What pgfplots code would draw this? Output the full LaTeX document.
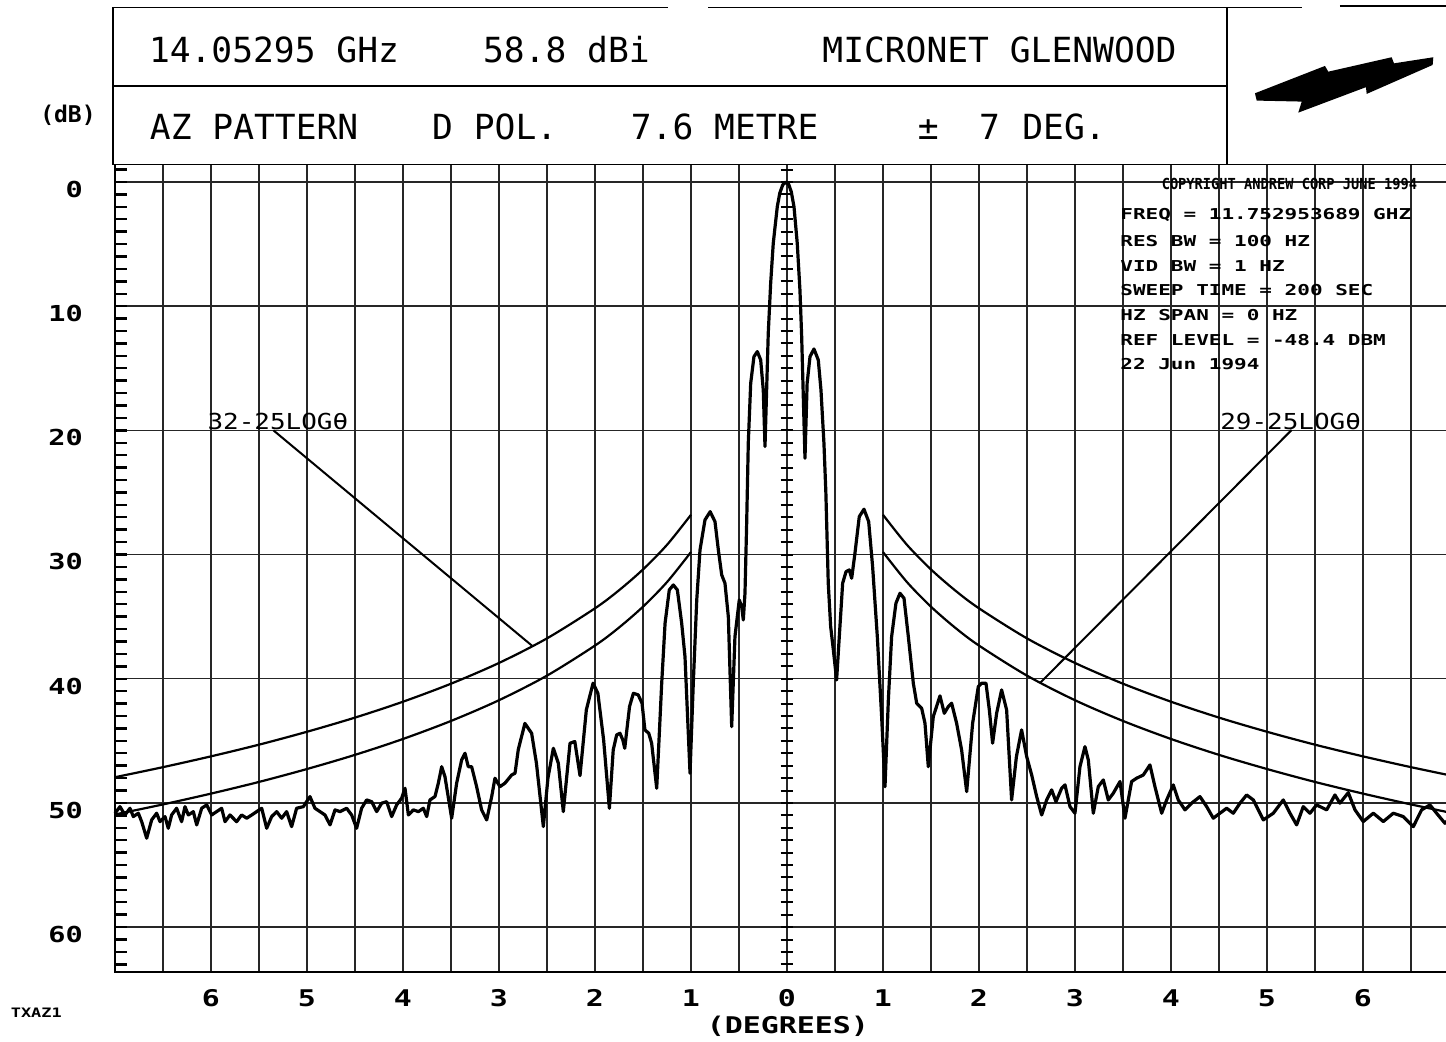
\documentclass[border=0pt]{standalone}
\usepackage{fontspec}
\setmainfont{DejaVu Sans Mono}
\newfontfamily\hdrfont{DejaVu Sans Mono}
\newfontfamily\tickfont[FakeStretch=1.3]{DejaVu Sans Mono}
\newfontfamily\lblfont[FakeStretch=1.18]{DejaVu Sans Mono}
\newfontfamily\insetfont[FakeStretch=1.4]{DejaVu Sans Mono}
\newfontfamily\copyfont[FakeStretch=0.9]{DejaVu Sans Mono}
\usepackage{pgfplots}
\pgfplotsset{compat=1.18}
\begin{document}
\begin{tikzpicture}
\begin{axis}[
  scale only axis, width=672pt, height=403.65pt,
  xmin=-7, xmax=7, ymin=-1.4, ymax=63.6, y dir=reverse,
  axis line style={line width=0.9pt},
  xtick={-6,...,6}, minor xtick={-6.5,-5.5,...,6.5},
  ytick={0,10,...,60},
  xticklabels={}, yticklabels={},
  xmajorgrids, xminorgrids, ymajorgrids,
  major grid style={black!85, line width=0.75pt},
  minor grid style={black!85, line width=0.75pt},
  major tick length=0pt, minor tick length=0pt,
  clip=false,
]
% bounding box corners (page = 1446 x 1042 px)
\coordinate (BL) at (axis cs:-8.198,69.24);
\coordinate (TR) at (axis cs:6.865,-14.65);

% header frame
\draw[line width=0.9pt] (axis cs:-7.02,-14.05) -- (axis cs:-1.24,-14.05);
\draw[line width=0.9pt] (axis cs:-0.82,-14.05) -- (axis cs:5.36,-14.05);
\draw[line width=0.9pt] (axis cs:5.76,-14.15) -- (axis cs:7.5,-14.15);
\draw[line width=0.9pt] (axis cs:-7.02,-7.7) -- (axis cs:4.58,-7.7);
\draw[line width=0.9pt] (axis cs:-7.02,-14.05) -- (axis cs:-7.02,-1.4);
\draw[line width=0.9pt] (axis cs:4.58,-14.05) -- (axis cs:4.58,-1.4);

% header text
\node[anchor=base west, inner sep=0pt, font=\hdrfont\fontsize{17.3}{20}\selectfont] at (axis cs:-6.65,-9.6) {14.05295 GHz};
\node[anchor=base west, inner sep=0pt, font=\hdrfont\fontsize{17.3}{20}\selectfont] at (axis cs:-3.17,-9.6) {58.8 dBi};
\node[anchor=base west, inner sep=0pt, font=\hdrfont\fontsize{17.3}{20}\selectfont] at (axis cs:0.365,-9.6) {MICRONET GLENWOOD};
\node[anchor=base west, inner sep=0pt, font=\hdrfont\fontsize{17.3}{20}\selectfont] at (axis cs:-6.64,-3.38) {AZ PATTERN};
\node[anchor=base west, inner sep=0pt, font=\hdrfont\fontsize{17.3}{20}\selectfont] at (axis cs:-3.70,-3.38) {D POL.};
\node[anchor=base west, inner sep=0pt, font=\hdrfont\fontsize{17.3}{20}\selectfont] at (axis cs:-1.63,-3.38) {7.6 METRE};
\node[anchor=base west, inner sep=0pt, font=\hdrfont\fontsize{17.3}{20}\selectfont] at (axis cs:1.36,-3.38) {±};
\node[anchor=base west, inner sep=0pt, font=\hdrfont\fontsize{17.3}{20}\selectfont] at (axis cs:1.997,-3.38) {7};
\node[anchor=base west, inner sep=0pt, font=\hdrfont\fontsize{17.3}{20}\selectfont] at (axis cs:2.448,-3.38) {DEG.};

% lightning logo
\fill (axis cs:4.875,-7.14) -- (axis cs:5.604,-9.34) -- (axis cs:5.639,-8.88) -- (axis cs:6.299,-10.04) -- (axis cs:6.323,-9.55) -- (axis cs:6.733,-10.04) -- (axis cs:6.726,-9.42) -- (axis cs:6.039,-7.09) -- (axis cs:6.031,-7.63) -- (axis cs:5.326,-5.58) -- (axis cs:5.362,-6.47) -- (axis cs:4.893,-6.55) -- cycle;

% left edge minor ticks and centre cross ticks
\pgfplotsinvokeforeach{-1,...,63}{
  \draw[line width=1.2pt] (axis cs:-7,#1) -- (axis cs:-6.875,#1);
  \draw[line width=1pt] (axis cs:-0.065,#1) -- (axis cs:0.065,#1);
}

% y tick labels
\pgfplotsinvokeforeach{0,10,20,30,40,50,60}{
  \node[anchor=east, inner sep=0pt, font=\tickfont\bfseries\fontsize{11}{13}\selectfont] at (axis cs:-7.33,#1+0.6) {#1};
}
% x tick labels
\node[font=\tickfont\bfseries\fontsize{11.5}{13}\selectfont] at (axis cs:-6,65.7) {6};
\node[font=\tickfont\bfseries\fontsize{11.5}{13}\selectfont] at (axis cs:-5,65.7) {5};
\node[font=\tickfont\bfseries\fontsize{11.5}{13}\selectfont] at (axis cs:-4,65.7) {4};
\node[font=\tickfont\bfseries\fontsize{11.5}{13}\selectfont] at (axis cs:-3,65.7) {3};
\node[font=\tickfont\bfseries\fontsize{11.5}{13}\selectfont] at (axis cs:-2,65.7) {2};
\node[font=\tickfont\bfseries\fontsize{11.5}{13}\selectfont] at (axis cs:-1,65.7) {1};
\node[font=\tickfont\bfseries\fontsize{11.5}{13}\selectfont] at (axis cs:0,65.7) {0};
\node[font=\tickfont\bfseries\fontsize{11.5}{13}\selectfont] at (axis cs:1,65.7) {1};
\node[font=\tickfont\bfseries\fontsize{11.5}{13}\selectfont] at (axis cs:2,65.7) {2};
\node[font=\tickfont\bfseries\fontsize{11.5}{13}\selectfont] at (axis cs:3,65.7) {3};
\node[font=\tickfont\bfseries\fontsize{11.5}{13}\selectfont] at (axis cs:4,65.7) {4};
\node[font=\tickfont\bfseries\fontsize{11.5}{13}\selectfont] at (axis cs:5,65.7) {5};
\node[font=\tickfont\bfseries\fontsize{11.5}{13}\selectfont] at (axis cs:6,65.7) {6};

% axis titles and tags
\node[font=\tickfont\bfseries\fontsize{11.5}{13}\selectfont] at (axis cs:0.01,68.0) {(DEGREES)};
\node[font=\hdrfont\bfseries\fontsize{11.5}{13}\selectfont] at (axis cs:-7.49,-5.39) {(dB)};
\node[font=\tickfont\bfseries\fontsize{6.5}{8}\selectfont] at (axis cs:-7.82,66.9) {TXAZ1};

% inset text
\node[anchor=base west, inner sep=0pt, font=\copyfont\bfseries\fontsize{7.6}{9}\selectfont] at (axis cs:3.90,0.64) {COPYRIGHT ANDREW CORP JUNE 1994};
\node[anchor=base west, inner sep=0pt, font=\insetfont\bfseries\fontsize{7.5}{9}\selectfont] at (axis cs:3.469,3.06) {FREQ = 11.752953689 GHZ};
\node[anchor=base west, inner sep=0pt, font=\insetfont\bfseries\fontsize{7.5}{9}\selectfont] at (axis cs:3.469,5.21) {RES BW = 100 HZ};
\node[anchor=base west, inner sep=0pt, font=\insetfont\bfseries\fontsize{7.5}{9}\selectfont] at (axis cs:3.469,7.22) {VID BW = 1 HZ};
\node[anchor=base west, inner sep=0pt, font=\insetfont\bfseries\fontsize{7.5}{9}\selectfont] at (axis cs:3.469,9.18) {SWEEP TIME = 200 SEC};
\node[anchor=base west, inner sep=0pt, font=\insetfont\bfseries\fontsize{7.5}{9}\selectfont] at (axis cs:3.469,11.16) {HZ SPAN = 0 HZ};
\node[anchor=base west, inner sep=0pt, font=\insetfont\bfseries\fontsize{7.5}{9}\selectfont] at (axis cs:3.469,13.20) {REF LEVEL = -48.4 DBM};
\node[anchor=base west, inner sep=0pt, font=\insetfont\bfseries\fontsize{7.5}{9}\selectfont] at (axis cs:3.469,15.14) {22 Jun 1994};

% envelope labels and leaders
\node[anchor=base west, inner sep=0pt, font=\lblfont\fontsize{11}{13}\selectfont] at (axis cs:-6.04,19.9) {32-25LOGθ};
\node[anchor=base west, inner sep=0pt, font=\lblfont\fontsize{11}{13}\selectfont] at (axis cs:4.51,19.9) {29-25LOGθ};
\draw[line width=1pt] (axis cs:-5.35,20) -- (axis cs:-2.65,37.38);
\draw[line width=1pt] (axis cs:5.257,19.97) -- (axis cs:2.635,40.35);

% envelope curves 32-25log(theta) and 29-25log(theta), relative to 58.8 dBi
\addplot[black, line width=1.1pt, smooth] coordinates {
(-7,47.93) (-6.5,47.12) (-6,46.25) (-5.5,45.31) (-5,44.27) (-4.5,43.13) (-4,41.85) (-3.5,40.40) (-3,38.73) (-2.5,36.75) (-2,34.33) (-1.75,32.88) (-1.5,31.20) (-1.25,29.22) (-1,26.80)};
\addplot[black, line width=1.1pt, smooth] coordinates {
(-7,50.93) (-6.5,50.12) (-6,49.25) (-5.5,48.31) (-5,47.27) (-4.5,46.13) (-4,44.85) (-3.5,43.40) (-3,41.73) (-2.5,39.75) (-2,37.33) (-1.75,35.88) (-1.5,34.20) (-1.25,32.22) (-1,29.80)};
\addplot[black, line width=1.1pt, smooth] coordinates {
(1,26.80) (1.25,29.22) (1.5,31.20) (1.75,32.88) (2,34.33) (2.5,36.75) (3,38.73) (3.5,40.40) (4,41.85) (4.5,43.13) (5,44.27) (5.5,45.31) (6,46.25) (6.5,47.12) (7,47.93)};
\addplot[black, line width=1.1pt, smooth] coordinates {
(1,29.80) (1.25,32.22) (1.5,34.20) (1.75,35.88) (2,37.33) (2.5,39.75) (3,41.73) (3.5,43.40) (4,44.85) (4.5,46.13) (5,47.27) (5.5,48.31) (6,49.25) (6.5,50.12) (7,50.93)};

% measured azimuth pattern
\addplot[black, line width=1.6pt, line join=round] coordinates {
(-7.0,50.83) (-6.948,50.30) (-6.896,50.97) (-6.844,50.43) (-6.809,51.10) (-6.757,50.83) (-6.722,51.51) (-6.670,52.84) (-6.618,51.37) (-6.566,50.83) (-6.531,51.51) (-6.479,51.10) (-6.445,52.04) (-6.410,50.97) (-6.358,50.43) (-6.306,51.51) (-6.271,50.30) (-6.236,50.97) (-6.184,50.70) (-6.149,51.77) (-6.097,50.43) (-6.045,50.16) (-5.993,50.97) (-5.941,50.70) (-5.889,50.43) (-5.854,51.51) (-5.802,50.97) (-5.733,51.51) (-5.681,50.97) (-5.628,51.23) (-5.576,50.97) (-5.524,50.70) (-5.472,50.43) (-5.420,52.04) (-5.368,51.10) (-5.316,50.70) (-5.264,51.23) (-5.212,50.70) (-5.160,51.91) (-5.108,50.43) (-5.038,50.30) (-4.969,49.49) (-4.917,50.43) (-4.865,50.70) (-4.813,50.97) (-4.760,51.77) (-4.708,50.56) (-4.656,50.70) (-4.587,50.43) (-4.535,50.97) (-4.483,52.04) (-4.431,50.43) (-4.379,49.76) (-4.326,49.90) (-4.274,50.70) (-4.222,50.02) (-4.170,49.90) (-4.118,51.10) (-4.066,50.16) (-4.014,49.62) (-3.979,48.82) (-3.944,50.97) (-3.892,50.56) (-3.840,50.70) (-3.788,50.43) (-3.753,51.10) (-3.719,49.76) (-3.667,49.49) (-3.632,48.41) (-3.597,47.08) (-3.563,47.88) (-3.493,51.23) (-3.441,48.41) (-3.389,46.54) (-3.354,46.00) (-3.320,47.08) (-3.285,47.08) (-3.233,48.69) (-3.181,50.56) (-3.128,51.37) (-3.076,49.49) (-3.042,48.01) (-2.990,48.69) (-2.938,48.41) (-2.868,47.75) (-2.833,47.61) (-2.799,45.70) (-2.73,43.60) (-2.66,44.39) (-2.61,46.80) (-2.538,51.90) (-2.49,48.00) (-2.434,45.60) (-2.382,46.80) (-2.33,50.70) (-2.26,45.19) (-2.21,45.06) (-2.156,47.80) (-2.09,42.50) (-2.02,40.36)
(-1.97,41.17) (-1.91,44.93) (-1.85,50.43) (-1.81,45.73) (-1.774,44.52) (-1.74,44.39) (-1.71,44.93) (-1.69,45.60) (-1.64,42.24) (-1.60,41.17) (-1.55,41.30) (-1.51,41.97) (-1.48,44.12) (-1.44,44.39) (-1.41,45.19) (-1.357,48.82) (-1.305,40.36) (-1.27,35.53) (-1.226,32.85) (-1.184,32.45) (-1.142,32.85) (-1.097,35.53) (-1.0625,38.22) (-1.01,47.61) (-0.976,40.36) (-0.94,33.66) (-0.906,29.63) (-0.854,27.21) (-0.80,26.55) (-0.75,27.35) (-0.715,29.63) (-0.68,31.64) (-0.646,32.31) (-0.611,35.00) (-0.576,43.86) (-0.542,36.61) (-0.497,33.66) (-0.472,34.19) (-0.455,35.27) (-0.4375,33.12) (-0.42,27.50) (-0.403,21.00) (-0.378,16.21) (-0.344,14.06) (-0.309,13.66) (-0.274,14.33) (-0.247,16.75) (-0.229,21.31) (-0.21,16.20) (-0.195,12.18) (-0.17,8.16) (-0.143,4.94) (-0.101,1.99) (-0.075,0.90) (-0.045,0.25) (-0.012,0.00) (0.018,0.20) (0.045,0.80) (0.073,1.99) (0.107,4.94) (0.135,8.70) (0.153,12.45) (0.17,17.29) (0.1875,22.25) (0.21,16.20) (0.24,14.06) (0.281,13.45) (0.326,14.33) (0.354,16.75) (0.385,21.04) (0.405,25.00) (0.43,32.31) (0.455,35.80) (0.483,37.68) (0.517,40.10) (0.545,36.61) (0.58,32.31) (0.615,31.38) (0.649,31.24) (0.674,31.91) (0.708,29.90) (0.753,26.95) (0.802,26.35) (0.851,27.35) (0.892,30.97) (0.941,36.61) (0.986,43.05) (1.021,48.69) (1.056,41.71) (1.09,36.61) (1.135,33.92) (1.177,33.12) (1.219,33.52) (1.264,36.61) (1.316,40.36) (1.351,41.97) (1.403,42.38) (1.4375,43.58) (1.472,47.08) (1.524,43.05) (1.594,41.38) (1.639,42.78) (1.681,42.24) (1.715,41.97) (1.767,43.58) (1.819,45.73) (1.872,49.09) (1.934,43.58) (1.993,40.63) (2.028,40.36) (2.073,40.36) (2.108,42.51) (2.142,45.19) (2.184,42.78) (2.236,40.90) (2.288,42.51) (2.34,49.76)
(2.39,46.27) (2.444,44.12) (2.497,46.27) (2.549,47.75) (2.601,49.49) (2.653,50.97) (2.705,49.76) (2.757,48.95) (2.802,49.90) (2.861,48.82) (2.896,48.55) (2.948,50.30) (3.0,50.83) (3.052,47.08) (3.104,45.47) (3.139,46.54) (3.191,50.83) (3.243,48.69) (3.295,48.15) (3.347,49.76) (3.399,49.22) (3.469,48.28) (3.521,51.23) (3.59,48.28) (3.642,48.01) (3.712,47.75) (3.781,46.94) (3.833,48.69) (3.903,50.83) (3.955,49.76) (4.024,48.55) (4.076,49.76) (4.146,50.56) (4.215,50.02) (4.302,49.49) (4.372,50.30) (4.441,51.23) (4.51,50.83) (4.58,50.43) (4.649,50.83) (4.719,50.02) (4.788,49.36) (4.858,49.76) (4.962,51.37) (5.066,50.83) (5.17,49.76) (5.24,50.83) (5.309,51.77) (5.378,50.30) (5.448,50.83) (5.517,50.16) (5.622,50.56) (5.708,49.36) (5.76,50.02) (5.847,49.17) (5.917,50.56) (6.003,51.50) (6.108,50.83) (6.212,51.50) (6.316,50.83) (6.42,51.10) (6.524,51.91) (6.611,50.56) (6.698,50.16) (6.767,50.83) (6.854,51.64) (6.93,51.00) (7.0,51.30)
};
\end{axis}
\pgfresetboundingbox
\useasboundingbox (BL) rectangle (TR);
\end{tikzpicture}
\end{document}
